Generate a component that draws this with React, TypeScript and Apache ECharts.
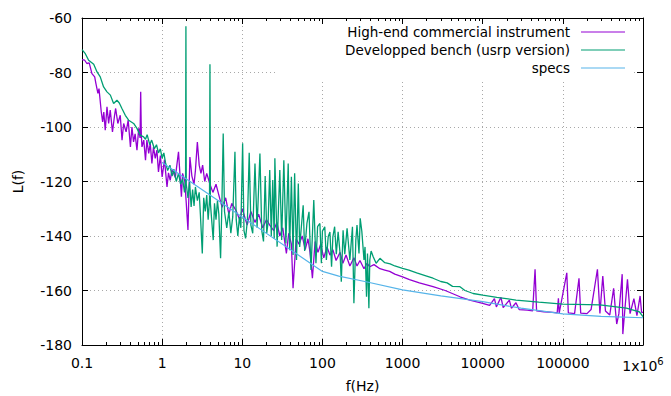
import React, { useEffect, useRef } from 'react';
import * as echarts from 'echarts';

const seriesNames = ['High-end commercial instrument', 'Developped bench (usrp version)', 'specs'];
const seriesColors = ['#9400D3', '#009E73', '#56B4E9'];

const xTickLabels = ['0.1', '1', '10', '100', '1000', '10000', '100000', '1x10{sup|6}'];
const yTicks = [-180, -160, -140, -120, -100, -80, -60];

// [frequency Hz, L(f) dBc/Hz]
const instrumentData: [number, number][] = [
  [0.1, -75.3], [0.108, -75.5], [0.115, -76.7], [0.123, -76.5], [0.133, -80.4], [0.144, -81.6], [0.149, -84],
  [0.158, -87.7], [0.163, -85.9], [0.174, -94.5], [0.181, -98.1], [0.187, -94.5], [0.195, -101.2], [0.205, -92.6],
  [0.215, -98.7], [0.225, -93.8], [0.24, -101.8], [0.255, -95.7], [0.263, -93.2], [0.28, -98.7], [0.3, -95.7],
  [0.316, -104.8], [0.331, -98.7], [0.355, -101.8], [0.377, -97.5], [0.402, -107.3], [0.42, -100], [0.44, -105.5],
  [0.46, -102.5], [0.485, -108.5], [0.51, -100.5], [0.53, -104], [0.54, -87.1], [0.55, -103], [0.56, -107.3],
  [0.59, -104.8], [0.62, -112.2], [0.645, -104.8], [0.68, -109.7], [0.71, -106], [0.745, -113.4], [0.78, -107.3],
  [0.82, -111.5], [0.86, -108.5], [0.9, -116.5], [0.95, -110.5], [1.0, -118.3], [1.07, -112], [1.15, -122],
  [1.2, -116.8], [1.26, -119.6], [1.33, -115.5], [1.46, -118.5], [1.6, -109.1], [1.74, -125.6], [1.8, -117],
  [1.92, -120], [2.0, -128], [2.1, -137.8], [2.22, -111], [2.35, -118], [2.5, -121], [2.6, -116], [2.75, -105.5],
  [2.9, -114], [3.05, -117], [3.2, -114], [3.4, -120], [3.6, -117], [3.95, -121], [4.3, -124], [4.7, -121],
  [5.1, -125], [5.6, -129.5], [6.2, -126], [6.8, -132], [7.4, -128], [8.3, -130.5], [9.3, -134], [10, -130],
  [11.5, -136], [12.8, -131], [14.4, -135], [16, -132], [18, -137], [20, -134], [22, -136], [24.7, -138],
  [27, -135], [29.4, -140], [32, -137], [35.5, -146.4], [38, -139], [41, -143], [43, -159.2], [47, -141],
  [51, -143], [56, -140], [61, -145], [66, -141], [70, -146], [75, -155.5], [81, -142], [88, -146], [95, -143],
  [104, -148], [114, -144], [124, -147], [135, -145], [148, -149], [166, -146], [180, -150], [197, -147],
  [220, -151], [247, -148], [270, -151], [294, -149], [330, -152], [360, -150], [390, -151.3], [440, -150.5],
  [522, -152], [600, -152.5], [690, -153], [800, -154], [1000, -155], [1220, -156], [1620, -157.2], [2400, -158.6],
  [3400, -160], [5200, -162.3], [6900, -163.5], [10000, -164.7], [12200, -165.5], [14000, -163], [14800, -166],
  [16900, -162.5], [18000, -166.3], [21500, -163.5], [22800, -166.5], [26000, -164.5], [28500, -167],
  [36000, -167.2], [42000, -167.5], [45000, -152.2], [47000, -167.5], [58000, -167.8], [75000, -168],
  [85000, -168.2], [88000, -162.9], [90000, -168.3], [112000, -153.5], [117000, -168.2], [140000, -168.5],
  [159000, -155.5], [167000, -168.3], [200000, -168.5], [225000, -167], [270000, -152.2], [290000, -168.4],
  [315000, -154.7], [340000, -167.5], [385000, -169], [430000, -159.2], [455000, -168], [470000, -172.3],
  [500000, -168.5], [550000, -154], [560000, -176], [590000, -168], [640000, -155.9], [690000, -168.5],
  [770000, -163], [840000, -169.2], [920000, -162], [960000, -168], [1000000, -168],
];

const benchData: [number, number][] = [
  [0.1, -71.6], [0.11, -73.1], [0.121, -75.5], [0.14, -77], [0.154, -79.8], [0.169, -81.6], [0.186, -85.3],
  [0.205, -87.1], [0.226, -88.3], [0.248, -91.4], [0.273, -90.2], [0.292, -91.2], [0.315, -93.2], [0.347, -95.7],
  [0.382, -97.5], [0.441, -98.7], [0.485, -100.5], [0.533, -103], [0.587, -103.6], [0.62, -104.5], [0.65, -102.8],
  [0.7, -106.5], [0.74, -104.8], [0.8, -108], [0.85, -106.5], [0.9, -109.5], [0.95, -108], [1.0, -111.5],
  [1.05, -109.5], [1.1, -113], [1.17, -116], [1.25, -114], [1.33, -118], [1.4, -115.5], [1.5, -120], [1.6, -117],
  [1.7, -121], [1.8, -119], [1.9, -124], [1.96, -120], [1.98, -63], [2.0, -121], [2.1, -126], [2.2, -120],
  [2.3, -129.3], [2.4, -123], [2.5, -129], [2.6, -122], [2.75, -127], [2.9, -124], [3.0, -132], [3.17, -146.4],
  [3.3, -126], [3.45, -131], [3.6, -125], [3.75, -134], [3.9, -127], [3.95, -77], [4.0, -128], [4.34, -141.5],
  [4.5, -128], [4.7, -134], [4.9, -127], [5.1, -132], [5.36, -148.2], [5.55, -130], [5.78, -102.4], [6.0, -131],
  [6.4, -137], [6.8, -131], [7.2, -139], [7.6, -133], [8.1, -109.1], [8.4, -134], [8.8, -140], [9.2, -133],
  [9.6, -137], [10.1, -106], [10.5, -138], [11, -140.9], [11.6, -134], [12.2, -109.5], [12.8, -136], [13.5, -139],
  [14.4, -113.4], [15.3, -137], [16.6, -109.7], [17.5, -138], [18.4, -142], [19.3, -118], [20.2, -139], [21, -135],
  [22, -115.8], [23, -140], [24, -119.5], [25, -141], [25.5, -111.5], [27.2, -143.9], [29.4, -115.8], [31, -141.5],
  [33, -112.2], [35, -142.7], [37.4, -113.4], [39, -145.2], [41, -118.3], [43, -147], [45, -117], [47.5, -148.8],
  [50, -120.7], [52, -144], [57.5, -128.7], [60, -145.5], [64, -135.4], [68, -131.1], [72, -152.5], [78, -126.8],
  [83, -150], [87, -136.6], [93, -135.4], [97, -150], [100, -138.2], [107, -136.6], [112, -148.8], [118, -140.3],
  [124, -138.5], [130, -151.3], [135, -140.3], [142, -136.6], [149, -146.7], [157, -138.5], [166, -146.4],
  [172, -156.8], [181, -137.9], [190, -146.7], [203, -137.2], [220, -148.8], [237, -136.6], [247, -164.7],
  [261, -141.5], [270, -136], [286, -146.4], [296, -133.5], [310, -138.2], [330, -148.8], [340, -144],
  [355, -162.3], [365, -146.4], [380, -166.5], [390, -148.8], [405, -145.5], [430, -147.6], [468, -150],
  [522, -148.2], [600, -149.8], [700, -150.2], [800, -151], [1000, -151.9], [1200, -152.5], [1500, -153.5],
  [2000, -154.7], [2400, -155.5], [3000, -156.7], [3600, -157.2], [4200, -158.5], [5200, -158.6], [6000, -160],
  [7600, -161.1], [10000, -161.7], [15000, -162.5], [26000, -163.5], [50000, -164.3], [100000, -165],
  [290000, -165.3], [620000, -166.5], [900000, -167.8], [1000000, -169.6],
];

const specsData: [number, number][] = [
  [1, -113], [10, -133], [100, -153], [160, -154.7], [350, -156.8], [1000, -159.8], [3000, -162],
  [10000, -164.1], [30000, -166.5], [100000, -168.6], [300000, -169.5], [1000000, -170],
];

const FONT = 'DejaVu Sans';

export default function App() {
  const ref = useRef<HTMLDivElement>(null);
  useEffect(() => {
    const chart = echarts.init(ref.current!, null, { renderer: 'svg' });
    const minorTicks: number[] = [];
    for (let e = -1; e < 6; e++) {
      for (let k = 2; k <= 9; k++) minorTicks.push(Number((k * Math.pow(10, e)).toPrecision(3)));
    }
    const labelText = (v: number) => {
      const i = Math.round(Math.log10(v)) + 1;
      return xTickLabels[i] ?? '';
    };
    const baseX = { type: 'log', logBase: 10, min: 0.1, max: 1000000, gridIndex: 0 };
    const option: any = {
      animation: false,
      textStyle: { fontFamily: FONT },
      grid: { left: 82, right: 28, top: 18, bottom: 51, containLabel: false, outerBoundsMode: 'none' },
      color: seriesColors,
      legend: seriesNames.map((n, i) => ({
        data: [n],
        right: 46,
        top: 25 + i * 18,
        padding: 0,
        align: 'right',
        orient: 'vertical',
        icon: 'rect',
        itemWidth: 44,
        itemHeight: 1.2,
        selectedMode: false,
        textStyle: { fontFamily: FONT, fontSize: 13.5, color: '#000', padding: [0, 6, 0, 0] },
      })),
      graphic: [
        { type: 'rect', z: 3, shape: { x: 276, y: 24, width: 358, height: 55 }, style: { fill: '#fff' } },
      ],
      xAxis: [
        {
          ...baseX,
          position: 'bottom',
          name: 'f(Hz)',
          nameLocation: 'middle',
          nameGap: 34,
          nameTextStyle: { fontFamily: FONT, fontSize: 14, color: '#000' },
          axisLine: { show: true, lineStyle: { color: '#000', width: 1 } },
          axisTick: { show: true, inside: true, length: 6, lineStyle: { color: '#000' } },
          axisLabel: {
            show: true,
            margin: 11,
            fontFamily: FONT,
            fontSize: 14,
            color: '#000',
            formatter: labelText,
            rich: { sup: { fontFamily: FONT, fontSize: 10, color: '#000', verticalAlign: 'top', padding: [0, 0, 10, 0] } },
          },
          splitLine: { show: true, showMinLine: false, showMaxLine: false, lineStyle: { color: '#a8a8a8', type: [1, 3], width: 1 } },
        },
        {
          ...baseX,
          position: 'top',
          axisLine: { show: true, lineStyle: { color: '#000', width: 1 } },
          axisTick: { show: true, inside: true, length: 6, lineStyle: { color: '#000' } },
          axisLabel: { show: false },
          splitLine: { show: false },
        },
        {
          ...baseX,
          position: 'bottom',
          axisLine: { show: false },
          axisTick: { show: true, inside: true, length: 3, customValues: minorTicks, lineStyle: { color: '#000' } },
          axisLabel: { show: false },
          splitLine: { show: false },
        },
        {
          ...baseX,
          position: 'top',
          axisLine: { show: false },
          axisTick: { show: true, inside: true, length: 3, customValues: minorTicks, lineStyle: { color: '#000' } },
          axisLabel: { show: false },
          splitLine: { show: false },
        },
      ],
      yAxis: [
        {
          type: 'value',
          position: 'left',
          min: yTicks[0],
          max: yTicks[yTicks.length - 1],
          interval: 20,
          name: 'L(f)',
          nameLocation: 'middle',
          nameGap: 57,
          nameTextStyle: { fontFamily: FONT, fontSize: 14, color: '#000' },
          axisLine: { show: true, lineStyle: { color: '#000', width: 1 } },
          axisTick: { show: true, inside: true, length: 6, lineStyle: { color: '#000' } },
          axisLabel: { show: true, margin: 10, fontFamily: FONT, fontSize: 14, color: '#000' },
          splitLine: { show: true, showMinLine: false, showMaxLine: false, lineStyle: { color: '#a8a8a8', type: [1, 3], width: 1 } },
        },
        {
          type: 'value',
          position: 'right',
          min: yTicks[0],
          max: yTicks[yTicks.length - 1],
          interval: 20,
          axisLine: { show: true, lineStyle: { color: '#000', width: 1 } },
          axisTick: { show: true, inside: true, length: 6, lineStyle: { color: '#000' } },
          axisLabel: { show: false },
          splitLine: { show: false },
        },
      ],
      series: [
        { name: seriesNames[0], type: 'line', data: instrumentData, xAxisIndex: 0, yAxisIndex: 0, showSymbol: false, symbol: 'none', lineStyle: { width: 1.3, color: seriesColors[0] }, itemStyle: { color: seriesColors[0] }, z: 2 },
        { name: seriesNames[1], type: 'line', data: benchData, xAxisIndex: 0, yAxisIndex: 0, showSymbol: false, symbol: 'none', lineStyle: { width: 1.3, color: seriesColors[1] }, itemStyle: { color: seriesColors[1] }, z: 2 },
        { name: seriesNames[2], type: 'line', data: specsData, xAxisIndex: 0, yAxisIndex: 0, showSymbol: false, symbol: 'none', lineStyle: { width: 1.2, color: seriesColors[2] }, itemStyle: { color: seriesColors[2] }, z: 2 },
      ],
    };
    chart.setOption(option);
    return () => chart.dispose();
  }, []);
  return <div ref={ref} style={{ position: 'absolute', left: 0, top: 0, width: 671, height: 396 }} />;
}
